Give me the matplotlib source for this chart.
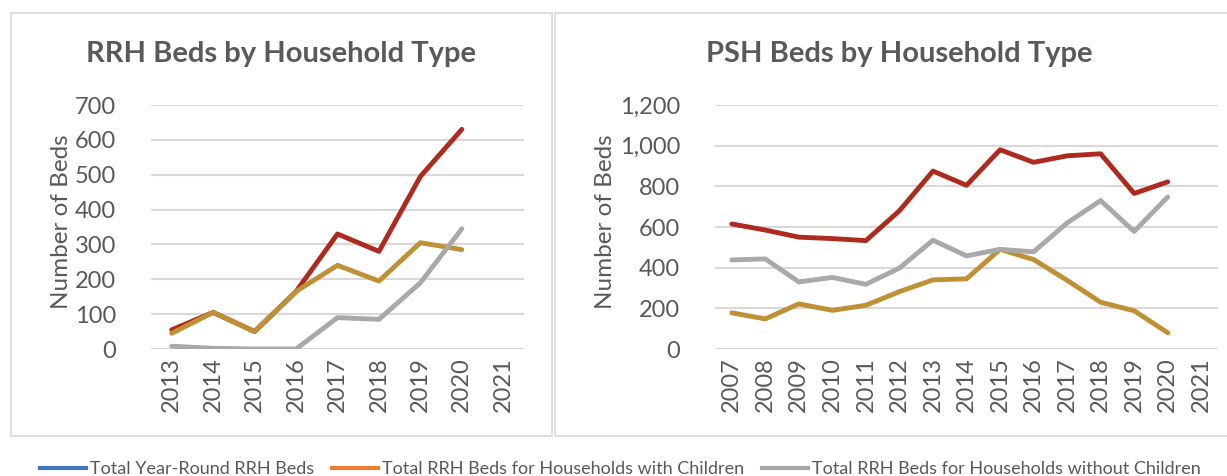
import matplotlib
matplotlib.use("Agg")
import matplotlib.pyplot as plt
from matplotlib.lines import Line2D
from matplotlib.patches import Rectangle

# ---------------- data ----------------
rrh_years = ["2013", "2014", "2015", "2016", "2017", "2018", "2019", "2020", "2021"]
rrh_total = [55, 105, 50, 165, 330, 280, 495, 630]
rrh_with_children = [45, 105, 50, 165, 240, 195, 305, 285]
rrh_without_children = [8, 2, 0, 0, 90, 85, 190, 345]

psh_years = ["2007", "2008", "2009", "2010", "2011", "2012", "2013", "2014",
             "2015", "2016", "2017", "2018", "2019", "2020", "2021"]
psh_total = [615, 585, 550, 543, 533, 680, 875, 805, 980, 918, 950, 960, 765, 822]
psh_with_children = [178, 148, 222, 190, 215, 282, 340, 345, 490, 440, 338, 230, 188, 80]
psh_without_children = [438, 443, 330, 352, 318, 398, 535, 458, 490, 478, 620, 730, 578, 748]

legend_labels = ["Total Year-Round RRH Beds",
                 "Total RRH Beds for Households with Children",
                 "Total RRH Beds for Households without Children"]

# ---------------- style ----------------
W, H = 1227, 476
FONT = ["Lato", "DejaVu Sans"]
TXT = "#595959"
GRID = "#D9D9D9"
RED = "#AE2A1F"
GOLD = "#BF9034"
GRAY = "#A9A9A9"
LW = 3.5

plt.rcParams["font.family"] = FONT

fig = plt.figure(figsize=(W / 100, H / 100), dpi=100)


def px_axes(x0, x1, ytop, ybot):
    return fig.add_axes([x0 / W, 1 - ybot / H, (x1 - x0) / W, (ybot - ytop) / H])


def style_axes(ax, years, ymax, step, fmt):
    n = len(years)
    ax.set_xlim(-0.5, n - 0.5)
    ax.set_ylim(0, ymax)
    ax.set_xticks(range(n))
    ax.set_xticklabels(years, rotation=90, fontsize=17, color=TXT)
    ticks = list(range(0, ymax + 1, step))
    ax.set_yticks(ticks)
    ax.set_yticklabels([fmt.format(t) for t in ticks], fontsize=17, color=TXT)
    ax.tick_params(length=0, pad=6)
    ax.tick_params(axis="y", pad=25)
    for s in ax.spines.values():
        s.set_visible(False)
    ax.grid(axis="y", color=GRID, linewidth=1.5)
    ax.set_axisbelow(True)


def plot_series(ax, total, wc, woc):
    kw = dict(linewidth=LW, solid_capstyle="round", solid_joinstyle="round")
    ax.plot(range(len(total)), total, color=RED, **kw)
    ax.plot(range(len(wc)), wc, color=GOLD, **kw)
    ax.plot(range(len(woc)), woc, color=GRAY, **kw)


# panel borders
fig.add_artist(Rectangle((11 / W, 1 - 436 / H), (552 - 11) / W, (436 - 13) / H,
                         transform=fig.transFigure, fill=False,
                         edgecolor=GRID, linewidth=1.2))
fig.add_artist(Rectangle((555 / W, 1 - 436 / H), (1240 - 555) / W, (436 - 13) / H,
                         transform=fig.transFigure, fill=False,
                         edgecolor=GRID, linewidth=1.2, clip_on=False))

# left chart
ax1 = px_axes(151, 524, 105, 349)
style_axes(ax1, rrh_years, 700, 100, "{:d}")
plot_series(ax1, rrh_total, rrh_with_children, rrh_without_children)

# right chart
ax2 = px_axes(715, 1218, 105, 349)
style_axes(ax2, psh_years, 1200, 200, "{:,d}")
plot_series(ax2, psh_total, psh_with_children, psh_without_children)

# titles
fig.text(281 / W, 1 - 54 / H, "RRH Beds by Household Type", ha="center", va="center",
         fontsize=21, fontweight="bold", color=TXT)
fig.text(899 / W, 1 - 54 / H, "PSH Beds by Household Type", ha="center", va="center",
         fontsize=21, fontweight="bold", color=TXT)

# y labels
fig.text(61 / W, 1 - 222 / H, "Number of Beds", ha="center", va="center",
         rotation=90, fontsize=17.5, color=TXT)
fig.text(605 / W, 1 - 222 / H, "Number of Beds", ha="center", va="center",
         rotation=90, fontsize=17.5, color=TXT)

# legend
handles = [Line2D([], [], color=c, linewidth=3) for c in ["#4472C4", "#ED7D31", "#A5A5A5"]]
fs = 13
fpx = fs * 100 / 72
leg = fig.legend(handles, legend_labels, loc="center left",
                 bbox_to_anchor=(40 / W, 1 - 469 / H), ncol=3, frameon=False,
                 fontsize=fs, labelcolor=TXT, borderpad=0, borderaxespad=0,
                 handlelength=46 / fpx, handletextpad=4 / fpx, columnspacing=18 / fpx)

fig.savefig("out.png", dpi=100)
